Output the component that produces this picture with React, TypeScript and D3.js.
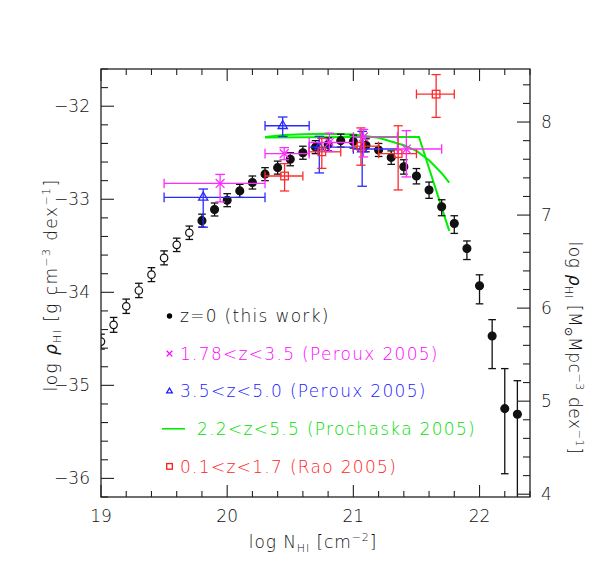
import * as d3 from "d3";
import React from "react";

// log N_HI bins, z=0 (this work): open symbols below 19.8, filled above
const nhiOpen = [19.0, 19.1, 19.2, 19.3, 19.4, 19.5, 19.6, 19.7];
const rhoOpen = [-34.53, -34.35, -34.15, -33.98, -33.81, -33.63, -33.49, -33.36];
const errOpen = [0.08, 0.08, 0.077, 0.077, 0.075, 0.075, 0.072, 0.072];

const nhiZ0 = [19.8, 19.9, 20.0, 20.1, 20.2, 20.3, 20.4, 20.5, 20.6, 20.7, 20.8, 20.9, 21.0,
  21.1, 21.2, 21.3, 21.4, 21.5, 21.6, 21.7, 21.8, 21.9, 22.0, 22.1, 22.2, 22.3];
const rhoZ0 = [-33.23, -33.11, -33.01, -32.91, -32.82, -32.73, -32.66, -32.57, -32.5, -32.44,
  -32.41, -32.37, -32.38, -32.42, -32.47, -32.55, -32.65, -32.75, -32.9, -33.08, -33.26,
  -33.53, -33.93, -34.47, -35.25, -35.31];
const upZ0 = [0.07, 0.07, 0.07, 0.07, 0.07, 0.07, 0.07, 0.07, 0.07, 0.07, 0.07, 0.07, 0.07,
  0.07, 0.07, 0.07, 0.075, 0.08, 0.085, 0.075, 0.083, 0.082, 0.118, 0.176, 0.43, 0.36];
const dnZ0 = [0.07, 0.07, 0.07, 0.07, 0.07, 0.07, 0.07, 0.07, 0.07, 0.07, 0.07, 0.07, 0.07,
  0.07, 0.07, 0.075, 0.08, 0.085, 0.09, 0.097, 0.107, 0.118, 0.194, 0.35, 0.7, 1.5];

// Peroux 2005, 1.78<z<3.5
const nhiP1 = [19.944, 20.452, 20.81, 21.08, 21.42];
const loP1 = [19.5, 20.3, 20.65, 21.0, 21.35];
const hiP1 = [20.3, 20.65, 21.0, 21.35, 21.7];
const rhoP1 = [-32.83, -32.51, -32.39, -32.33, -32.46];
const upP1 = [0.097, 0.065, 0.1, 0.08, 0.197];
const dnP1 = [0.198, 0.065, 0.097, 0.215, 0.3];

// Peroux 2005, 3.5<z<5.0
const nhiP2 = [19.81, 20.44, 20.73, 21.07];
const loP2 = [19.5, 20.3, 20.65, 21.0];
const hiP2 = [20.3, 20.65, 21.0, 21.35];
const rhoP2 = [-32.98, -32.21, -32.44, -32.46];
const upP2 = [0.09, 0.094, 0.117, 0.19];
const dnP2 = [0.32, 0.115, 0.277, 0.4];

// Rao 2005, 0.1<z<1.7
const nhiR = [20.455, 20.75, 21.06, 21.355, 21.656];
const loR = [20.3, 20.65, 21.0, 21.2, 21.5];
const hiR = [20.6, 20.9, 21.2, 21.5, 21.8];
const rhoR = [-32.75, -32.49, -32.43, -32.51, -31.87];
const upR = [0.133, 0.144, 0.197, 0.3, 0.21];
const dnR = [0.161, 0.178, 0.204, 0.39, 0.25];

// Prochaska 2005 fits, 2.2<z<5.5
const gamN = [20.3, 20.45, 20.6, 20.8, 21.0, 21.2, 21.4, 21.5, 21.6, 21.7, 21.76];
const gamRho = [-32.33, -32.31, -32.3, -32.295, -32.305, -32.34, -32.42, -32.48, -32.58, -32.72, -32.82];
const dplN = [20.3, 21.0, 21.52, 21.76];
const dplRho = [-32.335, -32.33, -32.33, -33.34];

const xTicks = [19, 20, 21, 22];
const yTicks = [-32, -33, -34, -35, -36];
const y2Ticks = [4, 5, 6, 7, 8];
const offset = 40.17; // g cm^-3 -> Msun Mpc^-3

const legendItems = [
  {label: "z=0 (this work)", color: "#000000", mark: "dot"},
  {label: "1.78<z<3.5 (Peroux 2005)", color: "#ff00ff", mark: "cross"},
  {label: "3.5<z<5.0 (Peroux 2005)", color: "#1a1aff", mark: "tri"},
  {label: "2.2<z<5.5 (Prochaska 2005)", color: "#00dd00", mark: "line"},
  {label: "0.1<z<1.7 (Rao 2005)", color: "#ff1a1a", mark: "square"},
];

const W = 598, H = 569;
const m = {left: 101, right: 530, top: 69, bottom: 497};
const font = "'DejaVu Sans', sans-serif";
const frame = "#222";
const ink = "#111";

const x = d3.scaleLinear().domain([19, 22.4]).range([m.left, m.right]);
const y = d3.scaleLinear().domain([-36.2, -31.6]).range([m.bottom, m.top]);
const y2 = d3.scaleLinear().domain([-36.2 + offset, -31.6 + offset]).range([m.bottom, m.top]);

const minor = (a: number, b: number) => d3.range(Math.ceil(a * 5), Math.floor(b * 5) + 1).map(v => v / 5);
const minus = (s: string) => s.replace("-", "\u2212");
const isMajor = (v: number) => Math.abs(v - Math.round(v)) < 1e-6;

function Marker({type, cx, cy, color, s}: {type: string; cx: number; cy: number; color: string; s: number}) {
  if (type === "dot") return <circle cx={cx} cy={cy} r={s} fill={color}/>;
  if (type === "open") return <circle cx={cx} cy={cy} r={s} fill="white" stroke={color} strokeWidth={1.2}/>;
  if (type === "cross") return <path d={`M${cx - s},${cy - s}L${cx + s},${cy + s}M${cx - s},${cy + s}L${cx + s},${cy - s}`} stroke={color} strokeWidth={1.3}/>;
  if (type === "tri") return <path d={`M${cx},${cy - s * 1.15}L${cx + s},${cy + s * 0.6}L${cx - s},${cy + s * 0.6}Z`} fill="none" stroke={color} strokeWidth={1.3}/>;
  if (type === "square") return <rect x={cx - s} y={cy - s} width={2 * s} height={2 * s} fill="none" stroke={color} strokeWidth={1.3}/>;
  return null;
}

function ErrSet({n, r, up, dn, lo, hi, color, mark, size, cap}: any) {
  return (
    <g>
      {n.map((v: number, i: number) => {
        const cx = x(v), cy = y(r[i]);
        const yt = y(r[i] + up[i]), yb = y(r[i] - dn[i]);
        return (
          <g key={i} stroke={color} strokeWidth={1.3} fill="none">
            <line x1={cx} x2={cx} y1={yt} y2={yb}/>
            <line x1={cx - cap} x2={cx + cap} y1={yt} y2={yt}/>
            <line x1={cx - cap} x2={cx + cap} y1={yb} y2={yb}/>
            {lo && <>
              <line x1={x(lo[i])} x2={x(hi[i])} y1={cy} y2={cy}/>
              <line x1={x(lo[i])} x2={x(lo[i])} y1={cy - cap} y2={cy + cap}/>
              <line x1={x(hi[i])} x2={x(hi[i])} y1={cy - cap} y2={cy + cap}/>
            </>}
            <Marker type={mark} cx={cx} cy={cy} color={color} s={size}/>
          </g>
        );
      })}
    </g>
  );
}

export default function App() {
  const gamPath = d3.line<number>().x(d => x(d)).y((d, i) => y(gamRho[i]))(gamN) || "";
  const dplPath = d3.line<number>().x(d => x(d)).y((d, i) => y(dplRho[i]))(dplN) || "";

  const xMinor = minor(19, 22.4);
  const yMinor = minor(-36.2, -31.6);
  const y2Minor = minor(-36.2 + offset, -31.6 + offset);

  return (
    <svg width={W} height={H} style={{display: "block", position: "absolute", left: 0, top: 0}}
         fontFamily={font} fontWeight={200}>
      <rect width={W} height={H} fill="white"/>
      <defs>
        <clipPath id="plotclip">
          <rect x={m.left} y={m.top} width={m.right - m.left} height={m.bottom - m.top}/>
        </clipPath>
      </defs>

      <g clipPath="url(#plotclip)">
        <path d={gamPath} fill="none" stroke="#00ee00" strokeWidth={2}/>
        <path d={dplPath} fill="none" stroke="#00ee00" strokeWidth={2}/>
        <ErrSet n={nhiOpen} r={rhoOpen} up={errOpen} dn={errOpen} color="#111" mark="open" size={3.7} cap={3.8}/>
        <ErrSet n={nhiZ0} r={rhoZ0} up={upZ0} dn={dnZ0} color="#111" mark="dot" size={3.9} cap={3.8}/>
        <ErrSet n={nhiP2} r={rhoP2} up={upP2} dn={dnP2} lo={loP2} hi={hiP2} color="#2a2aff" mark="tri" size={4.6} cap={4.8}/>
        <ErrSet n={nhiR} r={rhoR} up={upR} dn={dnR} lo={loR} hi={hiR} color="#ff2a2a" mark="square" size={3.8} cap={4.6}/>
        <ErrSet n={nhiP1} r={rhoP1} up={upP1} dn={dnP1} lo={loP1} hi={hiP1} color="#ff2aff" mark="cross" size={4.4} cap={4.8}/>
      </g>

      {/* frame */}
      <rect x={m.left} y={m.top} width={m.right - m.left} height={m.bottom - m.top} fill="none" stroke={frame} strokeWidth={1.3}/>

      {/* ticks: x on bottom and top, left axis in g cm^-3, right axis in Msun Mpc^-3 */}
      <g stroke={frame} strokeWidth={1.1}>
        {xMinor.map(v => {
          const len = isMajor(v) ? 12 : 6;
          return (
            <g key={v}>
              <line x1={x(v)} x2={x(v)} y1={m.bottom} y2={m.bottom - len}/>
              <line x1={x(v)} x2={x(v)} y1={m.top} y2={m.top + len}/>
            </g>
          );
        })}
        {yMinor.map(v => (
          <line key={v} x1={m.left} x2={m.left + (isMajor(v) ? 13 : 7)} y1={y(v)} y2={y(v)}/>
        ))}
        {y2Minor.map(v => (
          <line key={v} x1={m.right} x2={m.right - (isMajor(v) ? 13 : 7)} y1={y2(v)} y2={y2(v)}/>
        ))}
      </g>

      <g fontSize={17} fill={ink}>
        {xTicks.map(v => (
          <text key={v} x={x(v)} y={522} textAnchor="middle">{v}</text>
        ))}
        {yTicks.map(v => (
          <text key={v} x={90} y={y(v) + 6} textAnchor="end">{minus(String(v))}</text>
        ))}
        {y2Ticks.map(v => (
          <text key={v} x={541} y={y2(v) + 6}>{v}</text>
        ))}
      </g>

      {/* axis titles */}
      <text x={313} y={548} textAnchor="middle" fontSize={17} fill={ink} letterSpacing={0.9}>
        log N<tspan fontSize={11} dy={4}>HI</tspan><tspan dy={-4}> [cm</tspan>
        <tspan fontSize={11} dy={-7}>{"\u22122"}</tspan><tspan dy={7}>]</tspan>
      </text>
      <text transform="translate(57,285) rotate(-90)" textAnchor="middle" fontSize={17} fill={ink} letterSpacing={1.4}>
        log <tspan fontStyle="italic">{"\u03c1"}</tspan><tspan fontSize={11} dy={4}>HI</tspan>
        <tspan dy={-4}> [g cm</tspan><tspan fontSize={11} dy={-7}>{"\u22123"}</tspan>
        <tspan dy={7}> dex</tspan><tspan fontSize={11} dy={-7}>{"\u22121"}</tspan><tspan dy={7}>]</tspan>
      </text>
      <text transform="translate(569,348) rotate(90)" textAnchor="middle" fontSize={17} fill={ink} letterSpacing={0.6}>
        log <tspan fontStyle="italic">{"\u03c1"}</tspan><tspan fontSize={11} dy={4}>HI</tspan>
        <tspan dy={-4}> [M</tspan><tspan fontSize={11} dy={4}>{"\u2299"}</tspan>
        <tspan dy={-4}>Mpc</tspan><tspan fontSize={11} dy={-7}>{"\u22123"}</tspan>
        <tspan dy={7}> dex</tspan><tspan fontSize={11} dy={-7}>{"\u22121"}</tspan><tspan dy={7}>]</tspan>
      </text>

      {/* legend */}
      <g fontSize={17} letterSpacing={1.3}>
        {legendItems.map((it, i) => {
          const cy = 316 + i * 37.6;
          return (
            <g key={it.label}>
              {it.mark === "line"
                ? <line x1={162} x2={185} y1={cy} y2={cy} stroke="#00ee00" strokeWidth={1.6}/>
                : <Marker type={it.mark} cx={169.5} cy={cy} color={it.color} s={it.mark === "dot" ? 2.7 : 2.8}/>}
              <text x={it.mark === "line" ? 197 : 180} y={cy + 6.2} fill={it.color === "#000000" ? ink : it.color}>{it.label}</text>
            </g>
          );
        })}
      </g>
    </svg>
  );
}
